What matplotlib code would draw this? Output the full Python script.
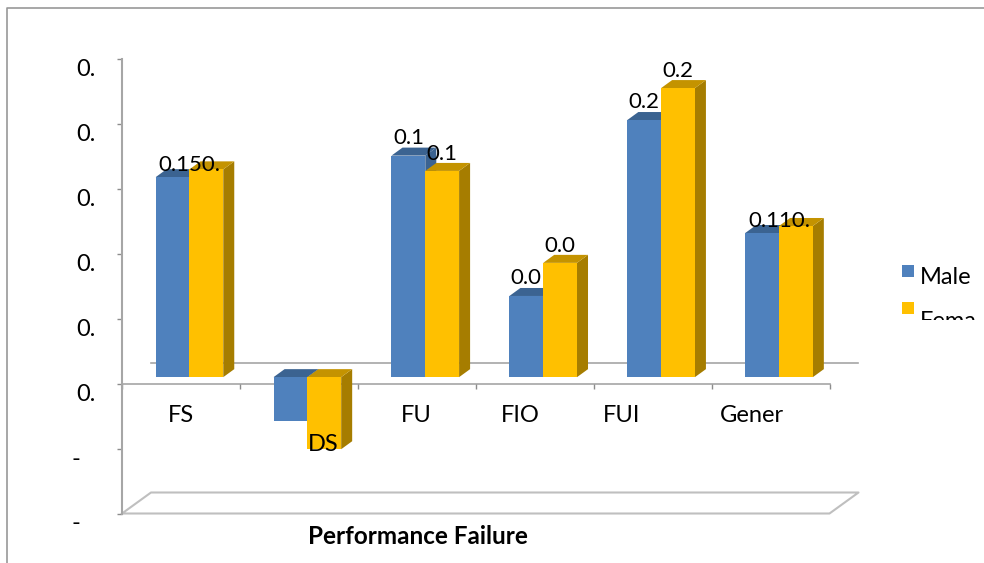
import matplotlib
matplotlib.use("Agg")
import matplotlib.pyplot as plt
from matplotlib.patches import Rectangle
from matplotlib.lines import Line2D
from matplotlib.transforms import Affine2D, Bbox

plt.rcParams['font.family'] = ['Lato', 'DejaVu Sans']

categorias = ["FS", "DS", "FU", "FIO", "FUI", "Gener"]
male = [0.154, -0.034, 0.1706, 0.0625, 0.198, 0.111]
female = [0.160, -0.0555, 0.1588, 0.088, 0.2226, 0.1164]

# etiquetas cortadas, igual que en el original
etiq_male = ["", "", "0.1", "0.0", "0.2", ""]
etiq_female = ["", "", "0.1", "0.0", "0.2", ""]
etiq_grupo = ["0.150.", "", "", "", "", "0.110."]

ticks_y = [-0.1, -0.05, 0, 0.05, 0.1, 0.15, 0.2, 0.25]
ticks_y_txt = ["-", "-", "0.", "0.", "0.", "0.", "0.", "0."]

# donde cae el texto de cada categoria (el original no lo centra siempre)
cat_x = [0.5, 1.71, 2.5, 3.38, 4.24, 5.34]
cat_y = [-0.0245, -0.047, -0.0245, -0.0245, -0.0245, -0.0245]

W, H = 984, 563
fig = plt.figure(figsize=(W / 100, H / 100), dpi=100)
ax = fig.add_axes([122 / W, (H - 513.5) / H, 707.5 / W, 454.5 / H])
ax.set_xlim(0, 6)
ax.set_ylim(-0.1, 0.25)

GRIS = '#A6A6A6'
AZUL, AZUL_OSC = '#4F81BD', '#3B6391'
ORO, ORO_TOP, ORO_OSC = '#FFC000', '#C49300', '#A67D00'

# conversion de pixeles a unidades de datos
ux = 6 / 707.5
uy = 0.35 / 454.5

ancho = 33.8 * ux
sx, sy = 8.5 * ux, 6.5 * uy      # las barras van un poco dentro del suelo
dx, dy = 11 * ux, 8 * uy         # profundidad de cada barra
wx, wy = 29 * ux, 21 * uy        # profundidad de la pared del fondo


def barra_3d(x0, v, color, oscuro, top, z):
    x1 = x0 + ancho
    arriba = max(v, 0) + sy
    abajo = min(v, 0) + sy
    ax.fill([x1, x1 + dx, x1 + dx, x1], [abajo, abajo + dy, arriba + dy, arriba],
            color=oscuro, lw=0, zorder=z, clip_on=False)
    ax.fill([x0, x1, x1 + dx, x0 + dx], [arriba, arriba, arriba + dy, arriba + dy],
            color=top, lw=0, zorder=z, clip_on=False)
    ax.bar(x0, v, ancho, bottom=sy, align='edge', color=color, lw=0, zorder=z + 0.5, clip_on=False)


for i in range(len(categorias)):
    xm = i + 0.5 - ancho + sx
    barra_3d(xm, male[i], AZUL, AZUL_OSC, AZUL_OSC, 3 + i)
    barra_3d(xm + ancho, female[i], ORO, ORO_OSC, ORO_TOP, 3.6 + i)

    if etiq_male[i]:
        ax.annotate(etiq_male[i], (xm + ancho / 2, male[i] + sy), xytext=(0, 13), textcoords='offset points',
                    ha='center', va='center', fontsize=16, zorder=20, annotation_clip=False)
    if etiq_female[i]:
        ax.annotate(etiq_female[i], (xm + ancho * 1.5, female[i] + sy), xytext=(0, 12.5), textcoords='offset points',
                    ha='center', va='center', fontsize=16, zorder=20, annotation_clip=False)
    if etiq_grupo[i]:
        ax.annotate(etiq_grupo[i], (xm + ancho, male[i] + sy), xytext=(0, 8.5), textcoords='offset points',
                    ha='center', va='center', fontsize=16, zorder=20, annotation_clip=False)
    ax.text(cat_x[i], cat_y[i], categorias[i], ha='center', va='center', fontsize=17, zorder=20)

# pared del fondo y suelo
ax.plot([wx, 6 + wx], [wy, wy], color=GRIS, lw=1.2, zorder=1, clip_on=False)
ax.plot([0, wx, 6 + wx, 6, 0], [-0.1, -0.1 + wy, -0.1 + wy, -0.1, -0.1],
        color='#BFBFBF', lw=1.5, zorder=1, clip_on=False)

ax.spines['top'].set_visible(False)
ax.spines['right'].set_visible(False)
ax.spines['left'].set_color(GRIS)
ax.spines['left'].set_linewidth(1.5)
ax.spines['bottom'].set_position(('data', 0))
ax.spines['bottom'].set_color(GRIS)
ax.spines['bottom'].set_linewidth(1.2)
ax.spines['bottom'].set_zorder(1)

ax.set_xticks(range(7))
ax.set_xticklabels([])
ax.set_yticks(ticks_y)
ax.set_yticklabels(ticks_y_txt, fontsize=17, ha='left', va='top')
ax.tick_params(axis='both', color='#8C8C8C', length=3.6, width=1)
ax.tick_params(axis='y', pad=29)
ax.patch.set_visible(False)

# los guiones quedan algo mas a la izquierda
for lab in ax.get_yticklabels()[:2]:
    lab.set_transform(lab.get_transform() + Affine2D().translate(-5, 0))

# lo que sigue se coloca en pixeles de la imagen
px = Affine2D().scale(1, -1).translate(0, H)

fig.text(418, 536, "Performance Failure", transform=px, ha='center', va='center',
         fontsize=17.5, fontweight='bold')

fig.add_artist(Line2D([7, 7, W], [H, 8, 8], transform=px, color='#989898', lw=1.2))

# leyenda, Female queda cortada como en el original
fig.add_artist(Rectangle((902, 265), 12, 12, transform=px, color=AZUL, lw=0))
fig.add_artist(Rectangle((902, 302), 12, 12, transform=px, color=ORO, lw=0))
fig.text(920, 278, "Male", transform=px, ha='left', va='center', fontsize=17)
t = fig.text(920, 321, "Female", transform=px, ha='left', va='center', fontsize=17)
t.set_clip_box(Bbox([[915, H - 320], [976, H - 290]]))
t.set_clip_on(True)

fig.savefig("out.png", dpi=100)
